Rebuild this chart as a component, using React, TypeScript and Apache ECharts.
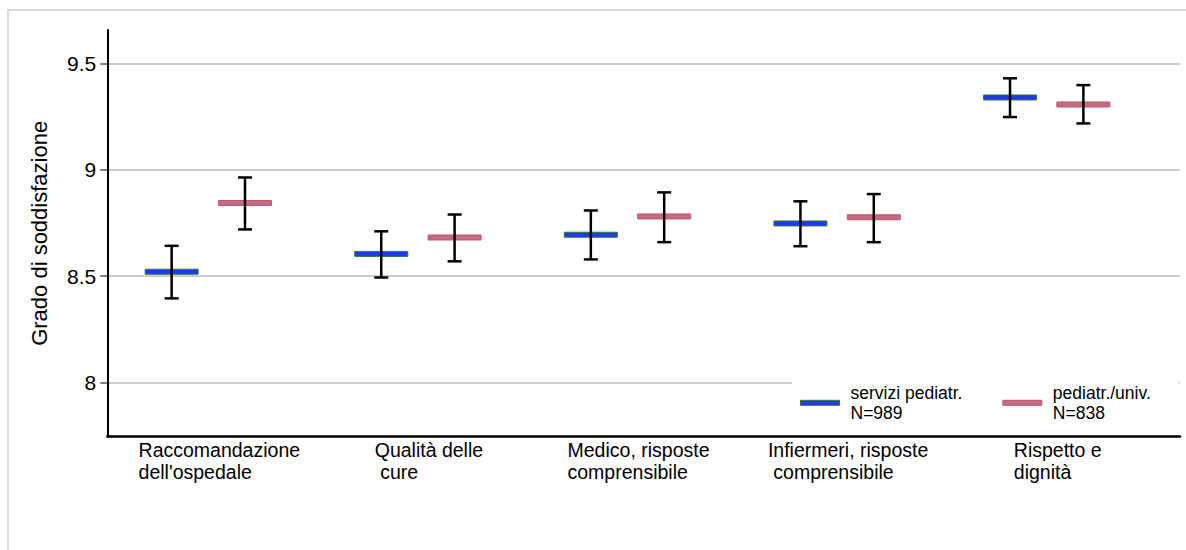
import React, { useEffect, useRef } from 'react';
import * as echarts from 'echarts';

const categories: string[][] = [
  ["Raccomandazione", "dell'ospedale"],
  ["Qualità delle", " cure"],
  ["Medico, risposte", "comprensibile"],
  ["Infiermeri, risposte", " comprensibile"],
  ["Rispetto e", "dignità"],
];
const seriesNames = ["servizi pediatr.", "pediatr./univ."];
const seriesN = ["N=989", "N=838"];
const serviziMean = [8.521, 8.605, 8.695, 8.748, 9.340];
const serviziLow = [8.396, 8.494, 8.579, 8.641, 9.248];
const serviziHigh = [8.643, 8.711, 8.809, 8.852, 9.430];
const univMean = [8.844, 8.682, 8.781, 8.777, 9.307];
const univLow = [8.720, 8.570, 8.660, 8.660, 9.218];
const univHigh = [8.964, 8.790, 8.894, 8.886, 9.398];
const yTicks = [8, 8.5, 9, 9.5];
const yTickLabels = ["8", "8.5", "9", "9.5"];
const yAxisTitle = "Grado di soddisfazione";

const FONT = "'Liberation Sans', Arial, Helvetica, sans-serif";
const BLUE_FILL = '#2238ee';
const BLUE_EDGE = '#2d7a36';
const PINK_FILL = '#c96a83';
const PINK_EDGE = '#b9566f';

function makeRender(fill: string, edge: string) {
  return (params: any, api: any) => {
    const x = api.value(0);
    const mean = api.value(1);
    const lo = api.value(2);
    const hi = api.value(3);
    const pm = api.coord([x, mean]);
    const pl = api.coord([x, lo]);
    const ph = api.coord([x, hi]);
    const halfBar = 26.5;
    const halfCap = 7;
    return {
      type: 'group',
      children: [
        {
          type: 'rect',
          shape: { x: pm[0] - halfBar, y: pm[1] - 2.5, width: halfBar * 2, height: 5 },
          style: { fill, stroke: edge, lineWidth: 1 },
        },
        {
          type: 'line',
          shape: { x1: pl[0], y1: pl[1], x2: ph[0], y2: ph[1] },
          style: { stroke: '#000', lineWidth: 2.5 },
        },
        {
          type: 'line',
          shape: { x1: ph[0] - halfCap, y1: ph[1], x2: ph[0] + halfCap, y2: ph[1] },
          style: { stroke: '#000', lineWidth: 2.5 },
        },
        {
          type: 'line',
          shape: { x1: pl[0] - halfCap, y1: pl[1], x2: pl[0] + halfCap, y2: pl[1] },
          style: { stroke: '#000', lineWidth: 2.5 },
        },
      ],
    };
  };
}

export default function App() {
  const ref = useRef<HTMLDivElement>(null);
  useEffect(() => {
    if (!ref.current) return;
    const chart = echarts.init(ref.current, undefined, { renderer: 'svg' });
    const off = 0.175;
    const serviziData = categories.map((_, i) => [i - off, serviziMean[i], serviziLow[i], serviziHigh[i]]);
    const univData = categories.map((_, i) => [i + off, univMean[i], univLow[i], univHigh[i]]);
    chart.setOption({
      animation: false,
      backgroundColor: '#ffffff',
      textStyle: { fontFamily: FONT },
      graphic: [
        {
          type: 'rect',
          z: -10,
          shape: { x: 8, y: 10, width: 1200, height: 600 },
          style: { fill: 'none', stroke: '#dadada', lineWidth: 2 },
        },
      ],
      grid: { left: 107.3, top: 30, right: 6, bottom: 113.3 },
      xAxis: {
        type: 'value',
        min: -0.482,
        max: 4.636,
        axisLine: { show: true, onZero: false, lineStyle: { color: '#000', width: 2.5 } },
        axisTick: { show: false, customValues: [0, 1, 2, 3, 4] },
        splitLine: { show: false },
        axisLabel: {
          customValues: [0, 1, 2, 3, 4],
          margin: 2,
          align: 'center',
          padding: [0, 0, 0, 22],
          formatter: (v: number) => {
            const c = categories[Math.round(v)];
            return `{l|${c[0]}}\n{l|${c[1]}}`;
          },
          rich: {
            l: { fontFamily: FONT, fontSize: 19.5, lineHeight: 22, color: '#000', align: 'left' },
          },
        },
      },
      yAxis: {
        type: 'value',
        min: 7.746,
        max: 9.657,
        name: yAxisTitle,
        nameLocation: 'middle',
        nameGap: 57,
        nameTextStyle: { fontFamily: FONT, fontSize: 22, color: '#000' },
        axisLine: { show: true, onZero: false, lineStyle: { color: '#000', width: 2 } },
        axisTick: { show: true, customValues: yTicks, length: 7, lineStyle: { color: '#555', width: 1.5 } },
        splitLine: { show: true, lineStyle: { color: '#bcbcbc', width: 1.5 } },
        axisLabel: {
          customValues: yTicks,
          margin: 11,
          fontFamily: FONT,
          fontSize: 21,
          color: '#000',
          formatter: (v: number) => {
            const k = yTicks.indexOf(v);
            return k >= 0 ? yTickLabels[k] : String(v);
          },
        },
      },
      legend: {
        left: 792,
        top: 372,
        orient: 'horizontal',
        backgroundColor: '#ffffff',
        padding: [11, 28, 8, 8],
        itemWidth: 39,
        itemHeight: 5,
        itemGap: 40,
        selectedMode: false,
        textStyle: { fontFamily: FONT, fontSize: 17.5, lineHeight: 19.8, color: '#000', padding: [0, 0, 0, 6] },
        formatter: (name: string) => {
          const k = seriesNames.indexOf(name);
          return `${name}\n${seriesN[k]}`;
        },
        data: [
          { name: seriesNames[0], icon: 'rect', itemStyle: { color: BLUE_FILL, borderColor: BLUE_EDGE, borderWidth: 1 } },
          { name: seriesNames[1], icon: 'rect', itemStyle: { color: PINK_FILL, borderColor: PINK_EDGE, borderWidth: 1 } },
        ],
      },
      series: [
        {
          type: 'custom',
          name: seriesNames[0],
          itemStyle: { color: BLUE_FILL },
          renderItem: makeRender(BLUE_FILL, BLUE_EDGE),
          encode: { x: 0, y: [1, 2, 3] },
          data: serviziData,
          z: 5,
        },
        {
          type: 'custom',
          name: seriesNames[1],
          itemStyle: { color: PINK_FILL },
          renderItem: makeRender(PINK_FILL, PINK_EDGE),
          encode: { x: 0, y: [1, 2, 3] },
          data: univData,
          z: 5,
        },
      ],
    });
    return () => chart.dispose();
  }, []);
  return (
    <div
      ref={ref}
      style={{ position: 'fixed', left: 0, top: 0, width: 1186, height: 550, background: '#fff' }}
    />
  );
}
